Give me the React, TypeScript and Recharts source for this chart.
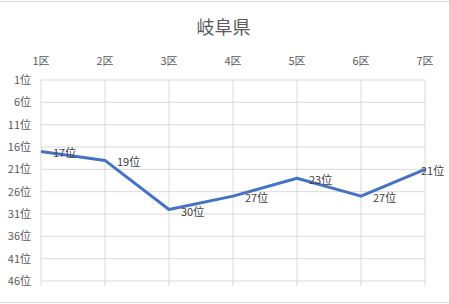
import React from 'react';
import { LineChart, Line, XAxis, YAxis, CartesianGrid, LabelList } from 'recharts';

const districts = ['1区', '2区', '3区', '4区', '5区', '6区', '7区'];
const ranks = [17, 19, 30, 27, 23, 27, 21];
const rankTicks = [1, 6, 11, 16, 21, 26, 31, 36, 41, 46];

const data = districts.map((d, i) => ({ district: d, rank: ranks[i] }));

const FONT = '"Noto Sans CJK JP", "Noto Sans", sans-serif';
const W = 449;
const H = 304;

const RankLabel = (props: any) => {
  const { x, y, value } = props;
  if (x == null || y == null) return null;
  const text = `${value}位`;
  const textW = 23;
  // push the label inside the frame when it would run off the right edge
  const lx = x + 12 + textW > W - 3 ? x - 4 : x + 12;
  return (
    <text
      x={lx}
      y={y + 1}
      fill="#404040"
      fontSize={11}
      fontFamily={FONT}
      textAnchor="start"
      dominantBaseline="central"
    >
      {text}
    </text>
  );
};

export default function App() {
  return (
    <div
      style={{
        position: 'absolute',
        left: 0,
        top: 0,
        width: W,
        height: H,
        background: '#fff',
        fontFamily: FONT,
      }}
    >
      <div style={{ position: 'absolute', left: 0, top: 1, width: W, height: 1, background: '#d9d9d9' }} />
      <div style={{ position: 'absolute', left: 0, top: 302, width: W, height: 1, background: '#d9d9d9' }} />
      <div
        style={{
          position: 'absolute',
          left: 0,
          top: 13,
          width: W - 2,
          textAlign: 'center',
          fontSize: 18,
          color: '#595959',
          lineHeight: '26px',
        }}
      >
        岐阜県
      </div>
      <LineChart
        width={W}
        height={H}
        data={data}
        margin={{ top: 50, right: 24, bottom: 18, left: 0 }}
      >
        <CartesianGrid stroke="#d9d9d9" strokeWidth={1} />
        <XAxis
          dataKey="district"
          orientation="top"
          height={30}
          axisLine={false}
          tickLine={false}
          tickSize={0}
          tickMargin={15}
          interval={0}
          tick={{ fontSize: 11, fill: '#595959', fontFamily: FONT }}
        />
        <XAxis
          xAxisId="bottom"
          dataKey="district"
          orientation="bottom"
          height={5}
          axisLine={false}
          tickLine={{ stroke: '#d9d9d9' }}
          tickSize={5}
          interval={0}
          tickFormatter={() => ''}
        />
        <YAxis
          type="number"
          domain={[1, 46]}
          ticks={rankTicks}
          reversed
          width={41}
          axisLine={false}
          tickLine={false}
          tickSize={0}
          tickMargin={10}
          interval={0}
          tickFormatter={(v: number) => `${v}位`}
          tick={{ fontSize: 11, fill: '#595959', fontFamily: FONT }}
        />
        <Line
          type="linear"
          dataKey="rank"
          stroke="#4472C4"
          strokeWidth={3}
          strokeLinejoin="round"
          dot={false}
          activeDot={false}
          isAnimationActive={false}
        >
          <LabelList dataKey="rank" content={<RankLabel />} />
        </Line>
      </LineChart>
    </div>
  );
}
